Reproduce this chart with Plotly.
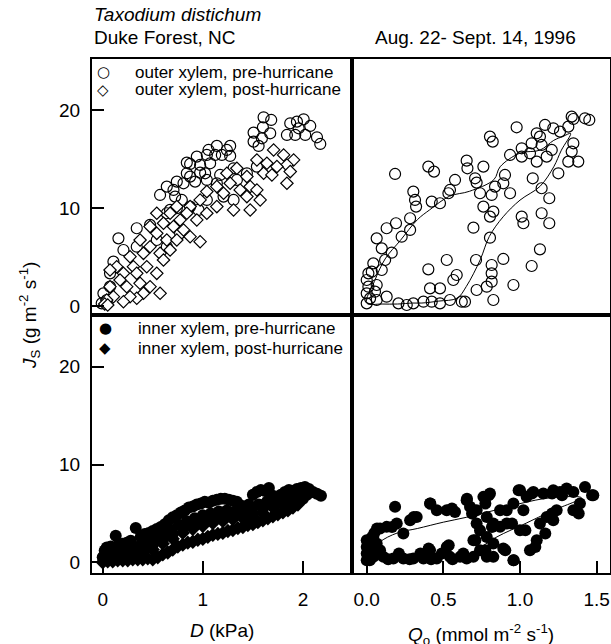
import plotly.graph_objects as go

W, H = 611, 644

# ---------------- data ----------------
# Top-left: outer xylem, Js vs D
outer_pre_D = [1.607, 1.683, 1.600, 1.673, 1.507, 1.590, 1.507, 1.557, 1.873, 1.940, 2.007, 2.073, 1.840,
               1.923, 2.023, 2.140, 2.173, 1.957, 1.273, 1.240, 1.140, 1.057, 0.940, 1.040, 1.123, 1.190,
               0.840, 0.873, 0.973, 1.073, 1.273, 1.307, 1.173, 1.023, 0.973, 0.873, 0.840, 0.740, 0.640,
               0.573, 0.707, 0.807, 0.923, 1.040, 1.140, 1.340, 1.440, 1.540, 0.723, 0.790, 0.673, 0.740,
               0.640, 0.873, 0.957, 1.040, 1.207, 1.307, 0.340, 0.157, 0.473, 0.540, 0.640, 0.773, 0.340,
               0.207, 0.107, 0.073, 0.007, -0.01, 0.040, 0.073]
outer_pre_Js = [19.25, 18.98, 18.23, 17.62, 17.69, 17.11, 16.77, 16.33, 18.64, 18.81, 19.05, 18.37, 17.45,
                17.45, 17.45, 17.21, 16.53, 18.13, 16.33, 15.92, 16.33, 15.92, 15.24, 15.41, 15.41, 15.41,
                14.63, 14.49, 14.39, 14.56, 15.31, 14.05, 13.37, 13.54, 13.61, 13.20, 13.54, 12.69, 12.18,
                11.33, 11.84, 12.52, 12.69, 12.86, 12.52, 12.86, 13.54, 14.22, 11.16, 10.82, 9.80, 9.97,
                9.46, 10.14, 9.80, 10.82, 11.16, 10.82, 7.93, 6.90, 8.27, 6.73, 6.05, 7.41, 6.05,
                5.71, 4.52, 3.33, 1.29, 0.27, 0.61, 1.97]
outer_post_D = [1.707, 1.807, 1.907, 1.840, 1.740, 1.640, 1.540, 1.607, 1.690, 1.840, 1.873, 1.440, 1.340,
                1.240, 1.473, 1.540, 1.373, 1.273, 1.140, 1.040, 1.207, 1.440, 1.573, 1.307, 1.473, 0.973,
                0.873, 1.140, 1.040, 0.940, 0.840, 0.740, 0.673, 0.773, 0.707, 0.607, 0.540, 0.473, 0.540,
                0.640, 0.740, 0.807, 0.873, 0.973, 0.473, 0.407, 0.373, 0.573, 0.607, 0.673, 0.273, 0.307,
                0.207, 0.140, 0.073, 0.173, 0.240, 0.373, 0.340, 0.440, 0.540, 0.473, 0.573, 0.407, 0.340,
                0.107, 0.040, 0.073, 0.273, 0.207, 0.02, 0.05]
outer_post_Js = [15.92, 15.41, 14.90, 14.39, 14.22, 14.56, 14.90, 13.54, 13.37, 12.52, 13.71, 13.20, 14.05,
                 13.54, 12.18, 11.84, 11.84, 12.52, 12.18, 11.67, 11.50, 11.16, 10.82, 9.80, 9.80, 10.82,
                 10.14, 10.14, 9.46, 8.78, 9.46, 10.14, 9.46, 8.78, 8.10, 8.44, 9.46, 8.10, 7.41,
                 6.73, 6.73, 7.76, 7.07, 6.56, 6.05, 5.37, 6.73, 5.37, 4.69, 5.71, 5.03, 4.01,
                 3.33, 4.01, 3.67, 2.65, 1.97, 2.31, 3.33, 4.01, 3.33, 1.97, 1.29, 1.29, 0.78,
                 0.95, 0.61, 1.97, 0.95, 0.44, 0.2, 0.1]

# Top-right: outer xylem, Js vs Qo
outer_Q = [1.337, 1.424, 1.452, 1.348, 0.978, 1.163, 1.217, 1.261, 1.315, 1.109, 0.804, 0.822, 1.130, 1.141,
           1.076, 1.011, 1.065, 1.207, 1.174, 1.109, 1.011, 1.348, 1.337, 1.315, 1.380, 0.935, 0.652, 0.657,
           0.761, 0.402, 0.439, 0.185, 0.707, 0.717, 0.902, 0.891, 0.576, 0.543, 0.533, 0.837, 0.815, 0.935,
           0.739, 0.304, 0.315, 0.322, 0.424, 0.478, 1.083, 1.250, 1.141, 1.191, 0.761, 0.826, 0.804, 0.283,
           0.191, 0.130, 0.065, 0.283, 0.228, 1.011, 1.022, 1.141, 1.191, 0.696, 0.098, 0.163, 0.804, 1.130,
           0.043, 0.033, 0.098, 0.120, 0.522, 0.402, 0.713, 0.891, 0.815, 1.076, 0.587, 0.565, 0.815, 0.815,
           0.957, 0.783, 0.717, 0.413, 0.478, 0.011, 0.0, 0.011, 0.0, 0.022, 0.0, 0.065, 0.130, 0.207, 0.261,
           0.304, 0.370, 0.424, 0.478, 0.543, 0.620, 0.641, 0.826, 0.065, 0.054]
outer_Q_Js = [19.32, 19.15, 18.98, 19.08, 18.23, 18.47, 18.13, 17.79, 18.30, 17.62, 17.28, 16.77, 17.28, 16.43,
              16.60, 16.09, 15.58, 15.92, 15.24, 14.73, 15.24, 16.60, 15.75, 14.73, 14.73, 15.41, 14.83, 14.05,
              14.22, 14.22, 13.71, 13.47, 13.03, 12.59, 13.37, 12.52, 12.86, 11.84, 11.50, 12.18, 11.33, 11.50,
              11.50, 11.67, 10.82, 10.14, 10.65, 10.48, 13.03, 13.54, 12.01, 10.99, 10.14, 9.63, 9.12, 8.95,
              8.44, 7.93, 6.90, 7.76, 7.07, 9.12, 8.44, 9.46, 8.44, 7.99, 5.88, 5.44, 6.97, 5.78,
              4.35, 3.50, 3.67, 4.69, 4.69, 3.74, 4.69, 4.80, 4.18, 4.08, 3.16, 2.65, 3.33, 2.48,
              2.14, 1.97, 1.63, 1.80, 1.80, 3.33, 2.65, 1.97, 1.29, 0.78, 0.27, 0.61, 0.95, 0.27, 0.10,
              0.27, 0.44, 0.44, 0.27, 0.61, 0.44, 0.44, 0.61, 2.14, 1.46]
outer_loop_Q = [0.0, 0.1, 0.2, 0.3, 0.36, 0.47, 0.59, 0.65, 0.74, 0.80, 0.89, 1.0, 1.13, 1.22, 1.27, 1.33,
                1.28, 1.22, 1.13, 1.0, 0.87, 0.83, 0.67, 0.54, 0.41, 0.33, 0.22, 0.12, 0.05, 0.0]
outer_loop_Js = [0.3, 0.2, 0.2, 0.3, 0.3, 0.5, 0.8, 2.0, 4.7, 7.1, 9.1, 10.8, 12.2, 14.2, 15.9, 17.6,
                 17.3, 16.9, 15.9, 15.6, 14.2, 12.9, 11.7, 11.2, 9.8, 8.8, 6.7, 4.8, 2.5, 0.3]

# Bottom-left: inner xylem, Js vs D
inner_pre_D = [0.0, 0.02, 0.04, 0.06, 0.08, 0.10, 0.13, 0.16, 0.20, 0.24, 0.28, 0.33, 0.38, 0.42, 0.46, 0.50,
               0.54, 0.58, 0.62, 0.66, 0.70, 0.74, 0.78, 0.82, 0.86, 0.90, 0.94, 0.98, 1.02, 1.06, 1.10, 1.14,
               1.18, 1.22, 1.26, 1.30, 1.34, 1.38, 1.42, 1.46, 1.50, 1.54, 1.58, 1.62, 1.66, 1.70, 1.74, 1.78,
               1.82, 1.86, 1.90, 1.94, 1.98, 2.02, 2.06, 2.10, 2.14, 2.18,
               0.05, 0.12, 0.20, 0.28, 0.36, 0.44, 0.52, 0.60, 0.68, 0.76, 0.84, 0.92, 1.00, 1.08, 1.16, 1.24,
               1.32, 1.40, 1.48, 1.56, 1.64, 1.72, 1.80, 1.88, 1.96, 2.04,
               0.30, 0.40, 0.50, 0.60, 0.70, 0.80, 0.90, 1.00, 1.10, 1.20, 1.30, 1.40, 1.50, 1.60, 1.70, 1.80,
               1.90, 2.00, 0.02, 0.08, 0.14, 0.20, 0.26, 0.04, 0.10, 0.16]
inner_pre_Js = [0.5, 1.2, 1.5, 1.3, 1.6, 1.5, 2.7, 1.8, 1.9, 2.0, 2.2, 3.5, 2.6, 2.9, 3.0, 3.2,
                3.4, 3.6, 3.9, 4.3, 4.6, 4.8, 5.1, 5.3, 5.6, 5.7, 5.9, 6.0, 6.2, 6.1, 6.3, 6.4,
                6.5, 6.5, 6.4, 6.3, 6.2, 5.8, 5.6, 5.9, 6.9, 7.2, 7.4, 7.3, 7.6, 6.8, 6.6, 6.9,
                7.2, 7.4, 7.3, 7.5, 7.6, 7.7, 7.5, 7.2, 7.0, 6.8,
                0.6, 0.9, 1.0, 1.3, 1.6, 2.0, 2.3, 2.8, 3.3, 3.8, 4.2, 4.5, 4.8, 5.0, 5.2, 5.3,
                5.2, 5.0, 5.2, 5.9, 6.2, 6.0, 6.3, 6.5, 6.8, 6.9,
                0.8, 1.3, 1.8, 2.3, 2.9, 3.5, 4.0, 4.3, 4.6, 4.8, 4.9, 4.9, 5.0, 5.5, 5.8, 6.0,
                6.2, 6.5, 0.2, 0.4, 0.5, 0.6, 0.8, 0.9, 1.0, 1.2]
inner_post_D = [0.0, 0.05, 0.10, 0.15, 0.20, 0.25, 0.30, 0.35, 0.40, 0.45, 0.50, 0.55, 0.60, 0.65, 0.70, 0.75,
                0.80, 0.85, 0.90, 0.95, 1.00, 1.05, 1.10, 1.15, 1.20, 1.25, 1.30, 1.35, 1.40, 1.45, 1.50, 1.55,
                1.60, 1.65, 1.70, 1.75, 1.80, 1.85, 1.90, 1.95,
                0.10, 0.20, 0.30, 0.40, 0.50, 0.60, 0.70, 0.80, 0.90, 1.00, 1.10, 1.20, 1.30, 1.40, 1.50, 1.60,
                1.70, 1.80]
inner_post_Js = [0.0, 0.1, 0.1, 0.2, 0.2, 0.2, 0.3, 0.3, 0.3, 0.4, 0.3, 0.5, 0.8, 1.0, 1.3, 1.6,
                 1.8, 2.0, 2.1, 2.3, 2.4, 2.6, 2.8, 2.9, 3.0, 3.2, 3.3, 3.5, 3.6, 3.8, 3.9, 4.1,
                 4.3, 4.5, 4.7, 4.9, 5.1, 5.3, 5.6, 5.9,
                 0.5, 0.7, 0.9, 1.0, 1.3, 1.9, 2.4, 3.0, 3.4, 3.7, 4.0, 4.2, 4.4, 4.5, 4.6, 5.0,
                 5.6, 5.8]

# Bottom-right: inner xylem, Js vs Qo
inner_Q = [0.185, 0.087, 0.130, 0.196, 0.239, 0.283, 0.326, 0.413, 0.457, 0.522, 0.576, 0.652, 0.674, 0.717,
           0.761, 0.804, 0.783, 0.826, 0.870, 0.913, 0.957, 1.0, 1.043, 1.087, 1.152, 1.217, 1.261, 1.304,
           1.348, 1.424, 1.478, 1.391, 1.348, 1.239, 1.174, 1.130, 1.217, 1.109, 1.065, 0.957, 0.891, 0.826,
           0.783, 0.696, 0.739, 0.826, 0.717, 0.739, 0.783, 1.0, 1.022, 0.913, 0.870,
           0.0, 0.0, 0.0, 0.0, 0.043, 0.065, 0.087, 0.043, 0.109, 0.174, 0.239, 0.304, 0.370, 0.413, 0.457,
           0.522, 0.543, 0.609, 0.652, 0.696,
           0.415, 0.556, 0.654, 0.796, 0.774, 0.991, 1.078, 1.209, 1.274, 1.47, 1.383, 1.209, 1.165, 1.10,
           1.035, 0.948, 0.904, 0.959, 0.817, 0.774, 0.709, 0.687, 0.535, 0.404, 0.307, 0.165, 0.067, 0.035,
           0.013, 0.02, 0.08, 0.14, 0.21, 0.28, 0.35, 0.42, 0.49, 0.56, 0.63, 0.05, 0.03]
inner_Q_Js = [5.67, 3.45, 3.62, 3.96, 2.94, 4.30, 4.64, 6.01, 5.32, 5.32, 5.15, 6.35, 5.67, 5.32,
              6.69, 7.03, 4.64, 3.96, 3.62, 3.96, 6.01, 7.37, 6.69, 7.20, 7.03, 7.37, 7.20, 7.54,
              7.20, 7.71, 6.86, 6.01, 5.32, 5.32, 4.64, 3.96, 4.30, 2.25, 1.23, 0.20, 1.40, 1.91,
              0.55, 2.25, 1.23, 0.55, 3.96, 3.28, 2.59, 3.28, 5.32, 5.32, 5.32,
              2.25, 1.57, 0.89, 0.20, 2.59, 1.91, 1.23, 0.55, 0.55, 0.38, 0.38, 0.38, 0.38, 1.23, 0.38,
              1.57, 0.55, 0.55, 0.38, 0.55,
              6.0, 5.5, 6.5, 6.86, 6.0, 7.37, 7.03, 7.03, 6.86, 6.86, 5.0, 5.0, 2.94, 1.57,
              3.28, 3.96, 1.23, 0.2, 3.6, 1.23, 2.25, 4.98, 1.74, 1.4, 4.64, 3.61, 3.45, 2.59,
              1.57, 0.2, 0.9, 0.3, 0.9, 0.3, 0.9, 0.3, 0.9, 0.3, 0.9, 3.0, 1.2]
inner_loop_Q = [0.0, 0.2, 0.4, 0.6, 0.68, 0.75, 0.85, 1.04, 1.2, 1.4, 1.2, 1.0, 0.83, 0.65, 0.5, 0.33, 0.2,
                0.08, 0.0]
inner_loop_Js = [0.4, 0.4, 0.5, 0.6, 0.9, 1.6, 2.6, 4.0, 5.2, 6.6, 6.6, 6.0, 5.3, 4.6, 4.1, 3.45, 3.0,
                 2.0, 0.4]

js_ticks = [0, 10, 20]
d_ticks = [0, 1, 2]
q_ticks = [0.0, 0.5, 1.0, 1.5]
q_tick_labels = ["0.0", "0.5", "1.0", "1.5"]

legend_top = ["outer xylem, pre-hurricane", "outer xylem, post-hurricane"]
legend_bottom = ["inner xylem, pre-hurricane", "inner xylem, post-hurricane"]

# ---------------- figure ----------------
FONT = "Liberation Sans, Arial, sans-serif"
fig = go.Figure()

open_circle = dict(symbol="circle-open", size=11, color="black", line=dict(width=1.2, color="black"))
open_diamond = dict(symbol="diamond", size=9.5, color="white", line=dict(width=1.2, color="black"))
solid_circle = dict(symbol="circle", size=12, color="black", line=dict(width=0))
solid_diamond = dict(symbol="diamond", size=11, color="black", line=dict(width=0))

fig.add_trace(go.Scatter(x=outer_pre_D, y=outer_pre_Js, mode="markers", marker=open_circle,
                         xaxis="x", yaxis="y", showlegend=False))
fig.add_trace(go.Scatter(x=outer_post_D, y=outer_post_Js, mode="markers", marker=open_diamond,
                         xaxis="x", yaxis="y", showlegend=False))

fig.add_trace(go.Scatter(x=outer_loop_Q, y=outer_loop_Js, mode="lines",
                         line=dict(color="black", width=1, shape="spline", smoothing=1.0),
                         xaxis="x2", yaxis="y2", showlegend=False))
fig.add_trace(go.Scatter(x=outer_Q, y=outer_Q_Js, mode="markers", marker=open_circle,
                         xaxis="x2", yaxis="y2", showlegend=False))

fig.add_trace(go.Scatter(x=inner_pre_D, y=inner_pre_Js, mode="markers", marker=solid_circle,
                         xaxis="x3", yaxis="y3", showlegend=False))
fig.add_trace(go.Scatter(x=inner_post_D, y=inner_post_Js, mode="markers", marker=solid_diamond,
                         xaxis="x3", yaxis="y3", showlegend=False))

fig.add_trace(go.Scatter(x=inner_Q, y=inner_Q_Js, mode="markers", marker=solid_circle,
                         xaxis="x4", yaxis="y4", showlegend=False))
fig.add_trace(go.Scatter(x=inner_loop_Q, y=inner_loop_Js, mode="lines",
                         line=dict(color="black", width=1, shape="spline", smoothing=1.0),
                         xaxis="x4", yaxis="y4", showlegend=False))

xL = [92 / W, 352 / W]
xR = [352 / W, 610 / W]
yT = [1 - 315 / H, 1 - 59 / H]
yB = [1 - 573 / H, 1 - 315 / H]

frame = dict(showline=True, linecolor="black", linewidth=2, mirror=True, showgrid=False,
             zeroline=False, tickcolor="black", tickwidth=1.5, ticklen=12, automargin=False,
             tickfont=dict(family=FONT, size=19, color="black"))

fig.update_layout(
    width=W, height=H, margin=dict(l=0, r=0, t=0, b=0, autoexpand=False),
    paper_bgcolor="white", plot_bgcolor="white", showlegend=False,
    font=dict(family=FONT, color="black"),
    xaxis=dict(domain=xL, range=[-0.107, 2.49], anchor="y", showticklabels=False, ticks="", **frame),
    yaxis=dict(domain=yT, range=[-0.92, 25.2], anchor="x", tickvals=js_ticks, ticks="inside",
               ticklabelstandoff=6, **frame),
    xaxis2=dict(domain=xR, range=[-0.096, 1.587], anchor="y2", showticklabels=False, ticks="", **frame),
    yaxis2=dict(domain=yT, range=[-0.92, 25.2], anchor="x2", showticklabels=False, ticks="", **frame),
    xaxis3=dict(domain=xL, range=[-0.107, 2.49], anchor="y3", tickvals=d_ticks, ticks="inside",
                ticklabelstandoff=8, **frame),
    yaxis3=dict(domain=yB, range=[-1.1, 25.3], anchor="x3", tickvals=js_ticks, ticks="inside",
                ticklabelstandoff=6, **frame),
    xaxis4=dict(domain=xR, range=[-0.096, 1.587], anchor="y4", tickvals=q_ticks, ticktext=q_tick_labels,
                ticks="inside", ticklabelstandoff=8, **frame),
    yaxis4=dict(domain=yB, range=[-1.1, 25.3], anchor="x4", showticklabels=False, ticks="", **frame),
)


def px(x):
    return x / W


def py(y):
    return 1 - y / H


base = dict(xref="paper", yref="paper", showarrow=False)
ann = []
txt = dict(family=FONT, size=19, color="black")
ann.append(dict(x=px(92), y=py(15), text="<i>Taxodium distichum</i>", xanchor="left", yanchor="middle",
                font=txt, **base))
ann.append(dict(x=px(92), y=py(38), text="Duke Forest, NC", xanchor="left", yanchor="middle",
                font=txt, **base))
ann.append(dict(x=px(373), y=py(38), text="Aug. 22- Sept. 14, 1996", xanchor="left", yanchor="middle",
                font=txt, **base))
ann.append(dict(x=px(30), y=py(315), text="<i>J</i><sub>S</sub> (g m<sup>-2</sup> s<sup>-1</sup>)",
                textangle=-90, xanchor="center", yanchor="middle", font=txt, **base))
ann.append(dict(x=px(222), y=py(630), text="<i>D</i> (kPa)", xanchor="center", yanchor="middle",
                font=txt, **base))
ann.append(dict(x=px(481), y=py(634), text="<i>Q</i><sub>o</sub> (mmol m<sup>-2</sup> s<sup>-1</sup>)",
                xanchor="center", yanchor="middle", font=txt, **base))

leg = dict(family=FONT, size=17, color="black")
sym = dict(family="DejaVu Sans", size=15, color="black")
symbols_top = ["○", "◇"]
symbols_bottom = ["●", "◆"]
for i, (s, t) in enumerate(zip(symbols_top, legend_top)):
    yy = 72 + 18 * i
    ann.append(dict(x=px(103), y=py(yy), text=s, xanchor="center", yanchor="middle", font=sym, **base))
    ann.append(dict(x=px(133), y=py(yy), text=t, xanchor="left", yanchor="middle", font=leg, **base))
for i, (s, t) in enumerate(zip(symbols_bottom, legend_bottom)):
    yy = 328 + 20 * i
    ann.append(dict(x=px(105), y=py(yy), text=s, xanchor="center", yanchor="middle", font=sym, **base))
    ann.append(dict(x=px(136), y=py(yy), text=t, xanchor="left", yanchor="middle", font=leg, **base))

fig.update_layout(annotations=ann)
fig.write_html("out.html", config={"displayModeBar": False},
               post_script="document.body.style.margin='0';")
